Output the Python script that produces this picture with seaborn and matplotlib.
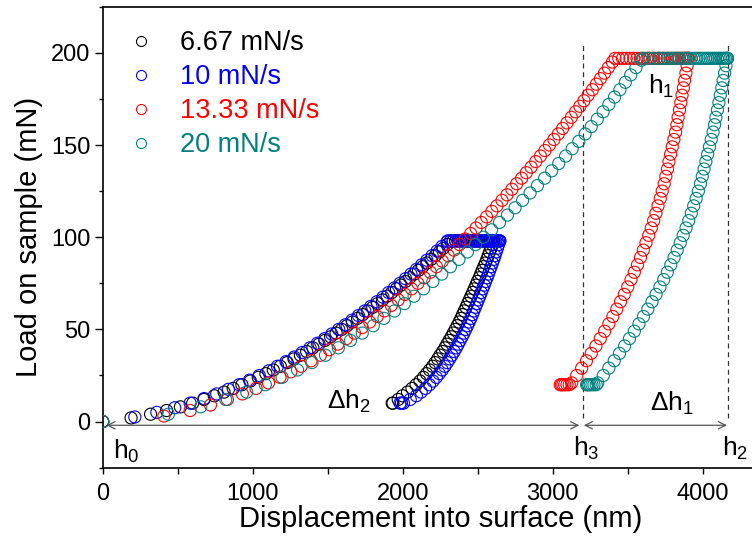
import matplotlib
matplotlib.use("Agg")
import matplotlib.pyplot as plt
import seaborn as sns
import pandas as pd
from matplotlib.lines import Line2D
from matplotlib.ticker import MultipleLocator

sns.set_theme(style="white")
plt.rcParams['font.family'] = ['Liberation Sans', 'DejaVu Sans']
plt.rcParams['mathtext.default'] = 'regular'

# ---------------- data ----------------
series_names = ["6.67 mN/s", "10 mN/s", "13.33 mN/s", "20 mN/s"]
series_colors = ["#000000", "#0000FF", "#FF0000", "#008080"]

# 6.67 mN/s (black)
black_up_load = [0, 2, 4, 6, 8, 10, 12, 14, 16, 18, 20, 22, 24, 26, 28, 30, 32, 34, 36, 38, 40,
                 42, 44, 46, 48, 50, 52, 54, 56, 58, 60, 62, 64, 66, 68, 70, 72, 74, 76, 78, 80,
                 82, 84, 86, 88, 90, 92, 94, 96]
black_up_disp = [0, 189, 319, 426, 518, 600, 675, 744, 809, 870, 928, 984, 1037, 1088, 1137, 1184,
                 1230, 1275, 1318, 1360, 1401, 1442, 1481, 1519, 1556, 1593, 1629, 1665, 1699, 1733,
                 1767, 1800, 1833, 1865, 1896, 1927, 1958, 1988, 2018, 2047, 2076, 2105, 2133, 2161,
                 2189, 2217, 2244, 2270, 2297]
black_max_load = 98
black_hold_disp = [2320, 2336, 2352, 2368, 2383, 2398, 2413, 2427, 2441, 2455, 2468, 2481, 2494,
                   2506, 2518, 2530, 2541, 2552, 2563, 2574, 2584, 2594, 2603]
black_down_load = [98, 96, 94, 92, 90, 88, 86, 84, 82, 80, 78, 76, 74, 72, 70, 68, 66, 64, 62, 60,
                   58, 56, 54, 52, 50, 48, 46, 44, 42, 40, 38, 36, 34, 32, 30, 28, 26, 24, 22, 20,
                   18, 16, 14, 12, 10, 10]
black_down_disp = [2607, 2598, 2589, 2579, 2570, 2561, 2551, 2540, 2530, 2520, 2510, 2498, 2488,
                   2477, 2466, 2455, 2444, 2433, 2422, 2410, 2399, 2388, 2376, 2363, 2350, 2337,
                   2324, 2309, 2295, 2281, 2266, 2249, 2233, 2216, 2199, 2179, 2159, 2138, 2115,
                   2089, 2062, 2032, 1999, 1970, 1935, 1930]

# 10 mN/s (blue)
blue_up_load = [0, 2.5, 5, 7.5, 10, 12.5, 15, 17.5, 20, 22.5, 25, 27.5, 30, 32.5, 35, 37.5, 40,
                42.5, 45, 47.5, 50, 52.5, 55, 57.5, 60, 62.5, 65, 67.5, 70, 72.5, 75, 77.5, 80,
                82.5, 85, 87.5, 90, 92.5, 95, 97.5]
blue_up_disp = [0, 214, 361, 480, 583, 676, 760, 838, 910, 979, 1044, 1106, 1165, 1222, 1277, 1330,
                1382, 1431, 1480, 1527, 1573, 1618, 1662, 1705, 1747, 1788, 1828, 1868, 1906, 1945,
                1982, 2019, 2055, 2091, 2126, 2161, 2196, 2229, 2262, 2296]
blue_max_load = 98
blue_hold_disp = [2300, 2318, 2336, 2354, 2372, 2389, 2406, 2422, 2438, 2454, 2469, 2484, 2498,
                  2512, 2526, 2539, 2552, 2564, 2576, 2588, 2599, 2610, 2620, 2630, 2639, 2647]
blue_down_load = [98, 96, 94, 92, 90, 88, 86, 84, 82, 80, 78, 76, 74, 72, 70, 68, 66, 64, 62, 60,
                  58, 56, 54, 52, 50, 48, 46, 44, 42, 40, 38, 36, 34, 32, 30, 28, 26, 24, 22, 20,
                  18, 16, 14, 12, 10, 10, 10]
blue_down_disp = [2647, 2639, 2631, 2623, 2615, 2607, 2598, 2589, 2580, 2571, 2562, 2552, 2543,
                  2533, 2523, 2514, 2504, 2494, 2484, 2474, 2464, 2454, 2443, 2432, 2420, 2408,
                  2396, 2383, 2370, 2357, 2343, 2328, 2313, 2297, 2281, 2263, 2244, 2224, 2202,
                  2178, 2152, 2123, 2091, 2050, 2005, 1992, 1982]

# 13.33 mN/s (red)
red_up_load = [0, 3, 6, 9, 12, 15, 18, 21, 24, 27, 30, 33, 36, 39, 42, 45, 48, 51, 54, 57, 60,
               63, 66, 69, 72, 75, 78, 81, 84, 87, 90, 93, 96, 99, 102, 105, 108, 111, 114, 117,
               120, 123, 126, 129, 132, 135, 138, 141, 144, 147, 150, 153, 156, 159, 162, 165,
               168, 171, 174, 177, 180, 183, 186, 189, 192, 195]
red_up_disp = [0, 408, 583, 718, 831, 931, 1022, 1105, 1182, 1254, 1323, 1389, 1451, 1511, 1568,
               1624, 1678, 1730, 1780, 1830, 1878, 1924, 1970, 2015, 2059, 2101, 2143, 2184, 2225,
               2264, 2303, 2341, 2379, 2416, 2453, 2489, 2524, 2559, 2594, 2628, 2662, 2695, 2728,
               2760, 2793, 2824, 2856, 2887, 2918, 2948, 2978, 3008, 3037, 3066, 3095, 3124, 3153,
               3181, 3208, 3236, 3264, 3291, 3318, 3345, 3371, 3398]
red_max_load = 197
red_hold_disp = [3415, 3440, 3465, 3490, 3515, 3540, 3562, 3585, 3607, 3628, 3650, 3670, 3690,
                 3710, 3728, 3746, 3764, 3781, 3798, 3814, 3830, 3845, 3860, 3874, 3887, 3898, 3905]
red_down_load = [197, 193, 189, 185, 181, 177, 173, 169, 165, 161, 157, 153, 149, 145, 141, 137,
                 133, 129, 125, 121, 117, 113, 109, 105, 101, 97, 93, 89, 85, 81, 77, 73, 69, 65,
                 61, 57, 53, 49, 45, 41, 37, 33, 29, 25, 21, 20, 20, 20, 20, 20, 20]
red_down_disp = [3905, 3896, 3888, 3879, 3871, 3862, 3854, 3845, 3836, 3828, 3819, 3808, 3797,
                 3786, 3775, 3765, 3754, 3743, 3730, 3717, 3702, 3688, 3673, 3657, 3640, 3622,
                 3604, 3585, 3565, 3544, 3522, 3500, 3477, 3452, 3427, 3401, 3374, 3346, 3317,
                 3288, 3257, 3225, 3193, 3160, 3126, 3110, 3095, 3080, 3068, 3058, 3050]

# 20 mN/s (teal)
teal_up_load = [0, 4, 8, 12, 16, 20, 24, 28, 32, 36, 40, 44, 48, 52, 56, 60, 64, 68, 72, 76, 80,
                84, 88, 92, 96, 100, 104, 108, 112, 116, 120, 124, 128, 132, 136, 140, 144, 148,
                152, 156, 160, 164, 168, 172, 176, 180, 184, 188, 192, 196]
teal_up_disp = [0, 438, 653, 820, 960, 1084, 1196, 1299, 1395, 1485, 1571, 1652, 1730, 1804, 1875,
                1945, 2011, 2076, 2139, 2201, 2260, 2318, 2375, 2431, 2485, 2538, 2592, 2645, 2698,
                2749, 2799, 2849, 2898, 2946, 2993, 3040, 3086, 3130, 3174, 3216, 3257, 3297, 3336,
                3374, 3412, 3448, 3484, 3520, 3555, 3591]
teal_max_load = 197
teal_hold_disp = [3600, 3640, 3675, 3708, 3738, 3766, 3792, 3817, 3840, 3862, 3883, 3903, 3922,
                  3940, 3957, 3974, 3990, 4005, 4020, 4034, 4048, 4061, 4074, 4086, 4098, 4109,
                  4120, 4131, 4141, 4151, 4160, 4165]
teal_down_load = [197, 193, 189, 185, 181, 177, 173, 169, 165, 161, 157, 153, 149, 145, 141, 137,
                  133, 129, 125, 121, 117, 113, 109, 105, 101, 97, 93, 89, 85, 81, 77, 73, 69, 65,
                  61, 57, 53, 49, 45, 41, 37, 33, 29, 25, 21, 20, 20, 20, 20, 20, 20, 20]
teal_down_disp = [4165, 4155, 4146, 4136, 4127, 4117, 4108, 4098, 4088, 4079, 4069, 4057, 4045,
                  4033, 4021, 4009, 3997, 3985, 3971, 3956, 3940, 3924, 3907, 3889, 3870, 3850,
                  3830, 3809, 3787, 3764, 3740, 3715, 3689, 3662, 3634, 3605, 3575, 3544, 3512,
                  3479, 3445, 3410, 3374, 3337, 3300, 3290, 3275, 3262, 3250, 3240, 3232, 3226]

# annotation positions (nm)
h0_nm = 0
h3_nm = 3202
h2_nm = 4167

# ---------------- build table ----------------
segments = [
    (black_up_disp, black_up_load, black_hold_disp, black_max_load, black_down_disp, black_down_load),
    (blue_up_disp, blue_up_load, blue_hold_disp, blue_max_load, blue_down_disp, blue_down_load),
    (red_up_disp, red_up_load, red_hold_disp, red_max_load, red_down_disp, red_down_load),
    (teal_up_disp, teal_up_load, teal_hold_disp, teal_max_load, teal_down_disp, teal_down_load),
]
frames = []
for name, (ud, ul, hd, hl, dd, dl) in zip(series_names, segments):
    disp = list(ud) + list(hd) + list(dd)
    load = list(ul) + [hl] * len(hd) + list(dl)
    frames.append(pd.DataFrame({"disp": disp, "load": load, "rate": name}))
df = pd.concat(frames, ignore_index=True)

# ---------------- figure ----------------
fig = plt.figure(figsize=(7.52, 5.42), dpi=100)
fig.patch.set_facecolor("white")
ax = fig.add_axes([0.1366, 0.1371, 0.8976, 0.8505])
ax.set_facecolor("white")

for name, col in zip(series_names, series_colors):
    sub = df[df["rate"] == name]
    sns.scatterplot(data=sub, x="disp", y="load", ax=ax, marker="o", s=76,
                    facecolor="none", edgecolor=col, linewidth=0.8, legend=False, zorder=3)

ax.set_xlim(0, 4500)
ax.set_ylim(-25, 225)
ax.xaxis.set_major_locator(MultipleLocator(1000))
ax.xaxis.set_minor_locator(MultipleLocator(500))
ax.yaxis.set_major_locator(MultipleLocator(50))
ax.yaxis.set_minor_locator(MultipleLocator(25))

for sp in ax.spines.values():
    sp.set_color("black")
    sp.set_linewidth(1.2)

ax.tick_params(axis="both", which="both", direction="out", bottom=True, left=True,
               top=False, right=False, colors="black", width=1.0)
ax.tick_params(axis="y", which="major", length=6, pad=3, labelsize=17)
ax.tick_params(axis="y", which="minor", length=3)
ax.tick_params(axis="x", which="major", length=4, pad=7, labelsize=17)
ax.tick_params(axis="x", which="minor", length=4)

ax.set_xlabel("Displacement into surface (nm)", fontsize=21, labelpad=0, color="black")
ax.set_ylabel("Load on sample (mN)", fontsize=21, labelpad=6, color="black")

# dashed guide lines
ax.vlines([h3_nm, h2_nm], ymin=2, ymax=204, colors="#333333", linestyles=(0, (4, 3)),
          linewidth=0.9, zorder=2)

# double arrows
arrow_y = -2
ax.annotate("", xy=(h0_nm + 25, arrow_y), xytext=(h3_nm - 25, arrow_y),
            arrowprops=dict(arrowstyle="<->", color="#555555", lw=0.9, shrinkA=0, shrinkB=0,
                            mutation_scale=13))
ax.annotate("", xy=(h3_nm + 5, arrow_y), xytext=(h2_nm - 5, arrow_y),
            arrowprops=dict(arrowstyle="<->", color="#555555", lw=0.9, shrinkA=0, shrinkB=0,
                            mutation_scale=13))

lab_kw = dict(fontsize=19, ha="left", va="baseline", color="black")
ax.text(69, -20, "h$_0$", **lab_kw)
ax.text(3135, -18.4, "h$_3$", **lab_kw)
ax.text(4129, -18.4, "h$_2$", **lab_kw)
ax.text(3635, 178, "h$_1$", **lab_kw)
ax.text(3649, 6, "Δh$_1$", **lab_kw)
ax.text(1495, 7, "Δh$_2$", **lab_kw)

handles = [Line2D([0], [0], marker="o", ls="none", mfc="none", mec=c, ms=7.2, mew=0.8)
           for c in series_colors]
leg = ax.legend(handles, series_names, loc="upper left",
                bbox_to_anchor=(127 / 752, 1 - 30 / 542), bbox_transform=fig.transFigure,
                frameon=False, fontsize=19.5, handlelength=1.0, handletextpad=0.95,
                labelspacing=0.3, borderpad=0, borderaxespad=0)
for t, c in zip(leg.get_texts(), series_colors):
    t.set_color(c)

fig.savefig("out.png", dpi=100, facecolor="white")
